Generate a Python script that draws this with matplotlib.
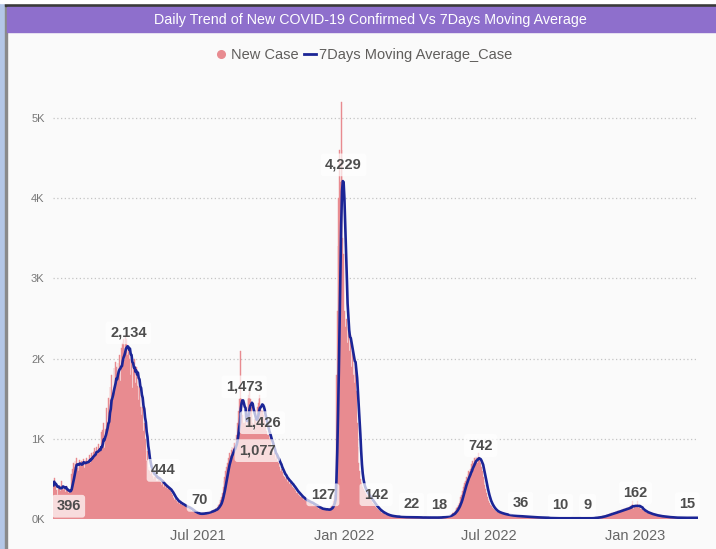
import pandas as pd
import matplotlib
matplotlib.use('Agg')
import matplotlib.pyplot as plt
from matplotlib import font_manager as fm
from matplotlib.lines import Line2D
from matplotlib.patches import Rectangle

# daily new cases, one list per month
jan_2021 = [420, 510, 380, 450, 360, 300, 390, 430, 400, 350, 470, 380, 420, 360, 390, 340,
            410, 300, 360, 330, 350, 320, 380, 560, 620, 700, 650, 720, 680, 760, 640]
feb_2021 = [600, 700, 740, 660, 720, 690, 700, 750, 640, 720, 680, 760, 700, 730, 800, 760,
            700, 820, 780, 840, 790, 880, 820, 900, 850, 800, 930, 870]
mar_2021 = [850, 1080, 900, 1110, 1200, 880, 1120, 1050, 1380, 1200, 1510, 1350, 1650, 1480,
            1800, 1570, 1500, 1880, 1650, 1960, 1900, 1750, 1950, 1800, 2050, 1720, 2130, 1950,
            2200, 2250, 1980]
apr_2021 = [2300, 2050, 2250, 2050, 2150, 2000, 2080, 1800, 2000, 1630, 1950, 1770, 2000, 1700,
            1900, 1660, 1800, 1480, 1650, 1400, 1550, 1300, 1400, 1100, 1200, 900, 1000, 720,
            850, 610]
may_2021 = [650, 600, 560, 620, 540, 580, 500, 520, 560, 480, 510, 470, 540, 490, 460, 480,
            430, 450, 400, 430, 410, 390, 410, 370, 390, 350, 370, 350, 320, 300, 280]
jun_2021 = [260, 240, 250, 220, 230, 200, 210, 190, 210, 180, 170, 190, 160, 170, 150, 160,
            140, 150, 130, 145, 140, 110, 100, 115, 90, 85, 90, 75, 70, 72]
jul_2021 = [65, 62, 70, 58, 66, 64, 72, 70, 68, 78, 75, 70, 85, 80, 90, 95, 88, 100, 105, 98,
            110, 110, 130, 140, 120, 150, 170, 190, 210, 240, 280]
aug_2021 = [330, 400, 470, 520, 600, 650, 700, 680, 760, 820, 780, 860, 900, 840, 880, 950,
            900, 1000, 1050, 1200, 1350, 1500, 1400, 2100, 1500, 1300, 1200, 1100, 1200, 1300,
            1150]
sep_2021 = [1300, 1500, 1550, 1600, 1500, 1400, 1300, 1200, 1100, 1250, 1350, 1250, 1200, 1400,
            1450, 1500, 1550, 1400, 1350, 1350, 1350, 1300, 1250, 1150, 1100, 1050, 1050, 1050,
            1000, 1050]
oct_2021 = [900, 850, 880, 800, 820, 780, 750, 800, 720, 700, 680, 650, 600, 620, 580, 560,
            540, 520, 500, 520, 480, 460, 490, 440, 450, 420, 430, 400, 390, 380, 360]
nov_2021 = [350, 330, 320, 300, 310, 290, 280, 270, 260, 250, 240, 250, 230, 220, 220, 210,
            230, 200, 210, 190, 200, 180, 190, 170, 160, 175, 150, 160, 140, 130]
dec_2021 = [135, 120, 140, 110, 125, 130, 115, 120, 110, 130, 115, 105, 125, 120, 140, 160,
            180, 220, 260, 300, 450, 1800, 2600, 3400, 4000, 4600, 4200, 5200, 4600, 3500, 3300]
jan_2022 = [2600, 2400, 2300, 2500, 2200, 2400, 2100, 2000, 2300, 1900, 2100, 1800, 2000, 1700,
            1900, 1600, 1200, 900, 700, 600, 500, 450, 420, 400, 380, 350, 330, 320, 300, 290,
            280]
feb_2022 = [270, 250, 240, 220, 200, 190, 180, 170, 150, 140, 130, 120, 110, 100, 95, 90, 80,
            75, 70, 65, 60, 55, 50, 48, 45, 42, 40, 38]
mar_2022 = [36, 34, 32, 35, 30, 28, 31, 27, 29, 26, 28, 25, 27, 24, 26, 23, 25, 22, 24, 21, 23,
            22, 20, 24, 21, 22, 23, 20, 21, 22, 24]
apr_2022 = [22, 19, 21, 18, 20, 17, 19, 21, 18, 16, 19, 17, 20, 18, 16, 19, 17, 18, 20, 16, 18,
            19, 17, 18, 16, 19, 18, 17, 19, 18]
may_2022 = [20, 22, 19, 25, 23, 28, 26, 30, 35, 32, 40, 38, 45, 42, 50, 60, 70, 75, 90, 100,
            120, 140, 150, 180, 200, 230, 270, 300, 350, 400, 430]
jun_2022 = [450, 480, 520, 500, 560, 600, 580, 620, 680, 650, 720, 700, 760, 740, 780, 760,
            700, 820, 740, 720, 700, 650, 600, 520, 480, 420, 380, 320, 280, 250]
jul_2022 = [220, 200, 180, 160, 150, 135, 120, 110, 100, 95, 90, 85, 80, 78, 75, 70, 68, 65,
            62, 60, 58, 55, 53, 52, 50, 48, 47, 45, 44, 42, 41]
aug_2022 = [40, 39, 38, 37, 36, 38, 35, 34, 36, 33, 32, 31, 33, 30, 29, 28, 30, 27, 26, 25, 27,
            24, 23, 25, 22, 21, 23, 20, 21, 19, 20]
sep_2022 = [19, 20, 18, 17, 18, 16, 17, 15, 16, 14, 15, 13, 14, 12, 13, 12, 11, 12, 10, 11, 10,
            9, 11, 10, 9, 10, 11, 9, 10, 11]
oct_2022 = [10, 9, 11, 10, 8, 9, 10, 11, 9, 8, 10, 9, 11, 10, 9, 8, 10, 9, 10, 11, 9, 10, 8, 9,
            10, 9, 11, 10, 9, 8, 10]
nov_2022 = [9, 8, 10, 9, 11, 10, 12, 11, 13, 14, 15, 16, 18, 17, 20, 22, 24, 23, 27, 30, 32, 35,
            38, 40, 44, 48, 52, 55, 58, 62]
dec_2022 = [65, 70, 68, 75, 80, 78, 85, 90, 88, 95, 100, 98, 105, 110, 115, 108, 120, 125, 118,
            130, 135, 140, 128, 145, 150, 160, 140, 230, 155, 130, 165]
jan_2023 = [170, 160, 150, 220, 140, 155, 130, 120, 125, 110, 100, 95, 90, 85, 80, 75, 70, 72,
            65, 60, 62, 55, 52, 50, 48, 45, 44, 42, 40, 38, 36]
feb_2023 = [35, 33, 32, 30, 31, 28, 27, 26, 25, 24, 23, 22, 21, 22, 20, 19, 18, 19, 17, 16, 17,
            16, 15, 16, 14, 15, 16, 15]
mar_2023 = [14, 15, 16, 14, 15, 13, 16, 15, 14, 15, 16, 14, 15, 15, 15, 14, 16, 15, 14, 15]

new_case = (jan_2021 + feb_2021 + mar_2021 + apr_2021 + may_2021 + jun_2021 + jul_2021
            + aug_2021 + sep_2021 + oct_2021 + nov_2021 + dec_2021 + jan_2022 + feb_2022
            + mar_2022 + apr_2022 + may_2022 + jun_2022 + jul_2022 + aug_2022 + sep_2022
            + oct_2022 + nov_2022 + dec_2022 + jan_2023 + feb_2023 + mar_2023)

# data labels shown on the moving average line
label_dates = ['2021-01-20', '2021-04-05', '2021-05-19', '2021-07-03', '2021-08-27',
               '2021-09-20', '2021-09-30', '2021-12-05', '2021-12-31', '2022-02-11',
               '2022-03-26', '2022-04-30', '2022-06-21', '2022-08-10', '2022-09-29',
               '2022-11-02', '2023-01-01', '2023-03-07']
label_texts = ['396', '2,134', '444', '70', '1,473', '1,426', '1,077', '127', '4,229', '142',
               '22', '18', '742', '36', '10', '9', '162', '15']

tick_dates = ['2021-07-01', '2022-01-01', '2022-07-01', '2023-01-01']
tick_labels = ['Jul 2021', 'Jan 2022', 'Jul 2022', 'Jan 2023']

# 7 day moving average
dates = pd.date_range('2021-01-01', periods=len(new_case), freq='D')
cases = pd.Series(new_case, index=dates)
ma7 = cases.rolling(7, min_periods=1).mean()

installed = {f.name for f in fm.fontManager.ttflist}
narrow = 'Liberation Sans Narrow' if 'Liberation Sans Narrow' in installed else 'Liberation Sans'
plt.rcParams['font.family'] = [narrow, 'DejaVu Sans']

fig = plt.figure(figsize=(7.16, 5.49), dpi=100, facecolor='#FAFAFA')
W, H = 716, 549

# frame decorations
fig.patches.append(Rectangle((0, 0), 5 / W, 1, transform=fig.transFigure,
                             color='#B4C7E7', zorder=0))
fig.patches.append(Rectangle((5 / W, 0), 1.6 / W, 1 - 3 / H, transform=fig.transFigure,
                             color='#8A8A8A', zorder=1))
fig.patches.append(Rectangle((5 / W, 1 - 6 / H), 1, 3 / H, transform=fig.transFigure,
                             color='#3A3A3A', zorder=1))
fig.patches.append(Rectangle((0, 1 - 3 / H), 1, 3 / H, transform=fig.transFigure,
                             color='#FFFFFF', zorder=1))
fig.patches.append(Rectangle((7 / W, 1 - 32 / H), 1, 25 / H, transform=fig.transFigure,
                             color='#8E6FCC', zorder=1))
fig.text(370 / W, 1 - 20 / H, 'Daily Trend of New COVID-19 Confirmed Vs 7Days Moving Average',
         color='white', fontsize=10.3, ha='center', va='center')

ax = fig.add_axes([53 / W, 30 / H, 645 / W, 425 / H])
ax.set_facecolor('none')

ax.bar(dates, new_case, width=1.0, color='#E88B90', edgecolor='#E88B90', linewidth=0.3,
       zorder=2)
ax.plot(dates, ma7, color='#1B2596', lw=1.9, solid_joinstyle='round', zorder=3)

ax.set_xlim(dates[0] - pd.Timedelta(hours=12), dates[-1] + pd.Timedelta(hours=12))
ax.set_ylim(0, 5300)

ax.set_yticks([0, 1000, 2000, 3000, 4000, 5000])
ax.set_yticklabels(['0K', '1K', '2K', '3K', '4K', '5K'])
ax.set_xticks(pd.to_datetime(tick_dates))
ax.set_xticklabels(tick_labels)
ax.tick_params(axis='y', length=0, pad=6, labelsize=8, labelcolor='#777777')
ax.tick_params(axis='x', length=0, pad=7, labelsize=10.5, labelcolor='#666666')
ax.grid(axis='y', color='#C4C4C4', linestyle=(0, (1, 2)), lw=0.9, zorder=1)
for s in ax.spines.values():
    s.set_visible(False)

# label offsets in pixels (label placement as in the visual)
offsets = [(0, -19), (0, 15), (0, 13), (0, 13), (1, 14), (0, -18), (-13, -18), (0, 14),
           (0, 15), (-1, 13), (0, 13), (0, 13), (0, 14), (0, 13), (0, 13), (0, 13), (0, 13),
           (0, 14)]
for d, t, off in zip(label_dates, label_texts, offsets):
    ax.annotate(t, (pd.Timestamp(d), int(t.replace(',', ''))), xytext=off,
                textcoords='offset pixels', ha='center', va='center',
                fontsize=10.5, fontweight='bold', color='#4D4D4D', zorder=5,
                bbox=dict(boxstyle='round,pad=0.3,rounding_size=0.2', fc='white',
                          ec='none', alpha=0.7))

handles = [Line2D([], [], marker='o', ls='none', color='#E88B90', markersize=5.5),
           Line2D([], [], color='#1B2596', lw=2)]
fig.legend(handles, ['New Case', '7Days Moving Average_Case'], loc='center',
           bbox_to_anchor=(364 / W, 1 - 55 / H), ncol=2, frameon=False, fontsize=10.5,
           handlelength=0.8, handletextpad=0.25, columnspacing=0.4, labelcolor='#605E5C')

fig.savefig('out.png', dpi=100, facecolor=fig.get_facecolor())
